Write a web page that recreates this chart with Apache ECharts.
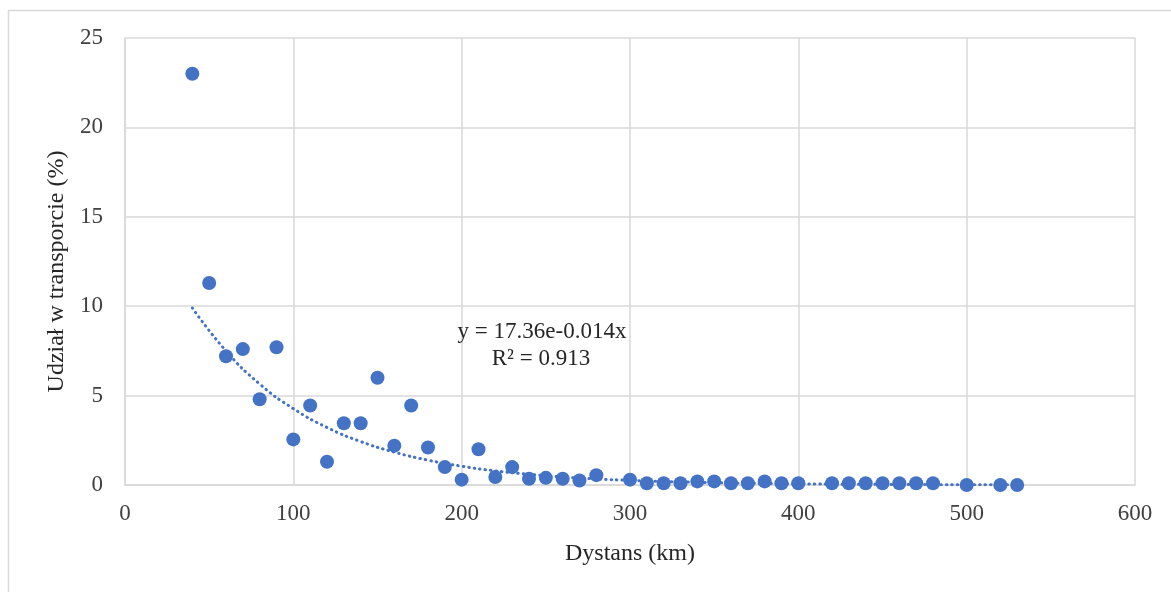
<!DOCTYPE html>
<html>
<head>
<meta charset="utf-8">
<title>Udział w transporcie</title>
<script src="https://cdn.jsdelivr.net/npm/echarts@6/dist/echarts.min.js"></script>
<style>
  html, body { margin: 0; padding: 0; background: #fff; }
  #chart { width: 1171px; height: 592px; }
</style>
</head>
<body>
<div id="chart"></div>
<script>
  // dystans (km) i udział (%)
  const distances = [40, 50, 60, 70, 80, 90, 100, 110, 120, 130, 140, 150, 160, 170, 180, 190,
    200, 210, 220, 230, 240, 250, 260, 270, 280, 300, 310, 320, 330, 340, 350, 360, 370,
    380, 390, 400, 420, 430, 440, 450, 460, 470, 480, 500, 520, 530];
  const shares = [23.0, 11.3, 7.2, 7.6, 4.8, 7.7, 2.55, 4.45, 1.3, 3.45, 3.45, 6.0, 2.2, 4.45, 2.1, 1.0,
    0.3, 2.0, 0.45, 1.0, 0.35, 0.4, 0.35, 0.25, 0.55, 0.3, 0.1, 0.1, 0.1, 0.2, 0.2, 0.1, 0.1,
    0.2, 0.1, 0.1, 0.1, 0.1, 0.1, 0.1, 0.1, 0.1, 0.1, 0.0, 0.0, 0.0];

  // linia trendu (wykładnicza), punkty
  const trendX = [40, 60, 80, 100, 120, 140, 160, 180, 200, 220, 240, 260, 280, 300, 340, 380, 420, 460, 500, 530];
  const trendY = [9.9, 7.5, 5.65, 4.27, 3.22, 2.43, 1.84, 1.39, 1.05, 0.79, 0.6, 0.45, 0.34, 0.26, 0.15, 0.085, 0.05, 0.03, 0.016, 0.01];

  const xTicks = [0, 100, 200, 300, 400, 500, 600];
  const yTicks = [0, 5, 10, 15, 20, 25];

  const eqLine1 = 'y = 17.36e-0.014x';
  const eqLine2 = 'R² = 0.913';

  const font = '"Liberation Serif", "Times New Roman", serif';
  const gridColor = '#d9d9d9';
  const blue = '#4472c4';

  const chart = echarts.init(document.getElementById('chart'));
  const option = {
    animation: false,
    backgroundColor: '#fff',
    grid: {
      left: 125,
      right: 36,
      top: 38,
      bottom: 107,
      containLabel: false
    },
    xAxis: {
      type: 'value',
      min: xTicks[0],
      max: xTicks[xTicks.length - 1],
      interval: 100,
      name: 'Dystans (km)',
      nameLocation: 'middle',
      nameGap: 57,
      nameTextStyle: { fontFamily: font, fontSize: 24, color: '#262626' },
      axisLine: { show: true, lineStyle: { color: gridColor, width: 1.5 } },
      axisTick: { show: false },
      axisLabel: { fontFamily: font, fontSize: 23, color: '#404040', margin: 17 },
      splitLine: { show: true, lineStyle: { color: gridColor, width: 1.5 } }
    },
    yAxis: {
      type: 'value',
      min: yTicks[0],
      max: yTicks[yTicks.length - 1],
      interval: 5,
      name: 'Udział w transporcie (%)',
      nameLocation: 'middle',
      nameGap: 51,
      nameRotate: 90,
      // przesunięcie tytułu osi lekko w dół
      nameTextStyle: { fontFamily: font, fontSize: 24, color: '#262626', padding: [0, 20, 0, 0] },
      axisLine: { show: true, lineStyle: { color: gridColor, width: 1.5 } },
      axisTick: { show: false },
      axisLabel: { fontFamily: font, fontSize: 23, color: '#404040', margin: 22, padding: [3, 0, 0, 0] },
      splitLine: { show: true, lineStyle: { color: gridColor, width: 1.5 } }
    },
    series: [
      {
        name: 'trend',
        type: 'line',
        smooth: true,
        symbol: 'none',
        data: trendX.map((x, i) => [x, trendY[i]]),
        lineStyle: { color: blue, width: 3, type: [0.5, 5], cap: 'round' },
        z: 2
      },
      {
        name: 'udział',
        type: 'scatter',
        symbol: 'circle',
        symbolSize: 14,
        data: distances.map((x, i) => [x, shares[i]]),
        itemStyle: { color: blue, opacity: 1 },
        z: 3
      }
    ],
    graphic: [
      // ramka wykresu (góra i lewa krawędź)
      {
        type: 'line',
        shape: { x1: 8, y1: 10.5, x2: 1171, y2: 10.5 },
        style: { stroke: '#d9d9d9', lineWidth: 1.5 }
      },
      {
        type: 'line',
        shape: { x1: 8.5, y1: 10, x2: 8.5, y2: 592 },
        style: { stroke: '#d9d9d9', lineWidth: 1.5 }
      },
      {
        type: 'text',
        x: 542,
        y: 332,
        style: {
          text: eqLine1,
          font: '23px ' + font,
          fill: '#262626',
          textAlign: 'center',
          textVerticalAlign: 'middle'
        },
        z: 10
      },
      {
        type: 'text',
        x: 541,
        y: 359,
        style: {
          text: eqLine2,
          font: '23px ' + font,
          fill: '#262626',
          textAlign: 'center',
          textVerticalAlign: 'middle'
        },
        z: 10
      }
    ]
  };
  chart.setOption(option);
</script>
</body>
</html>
